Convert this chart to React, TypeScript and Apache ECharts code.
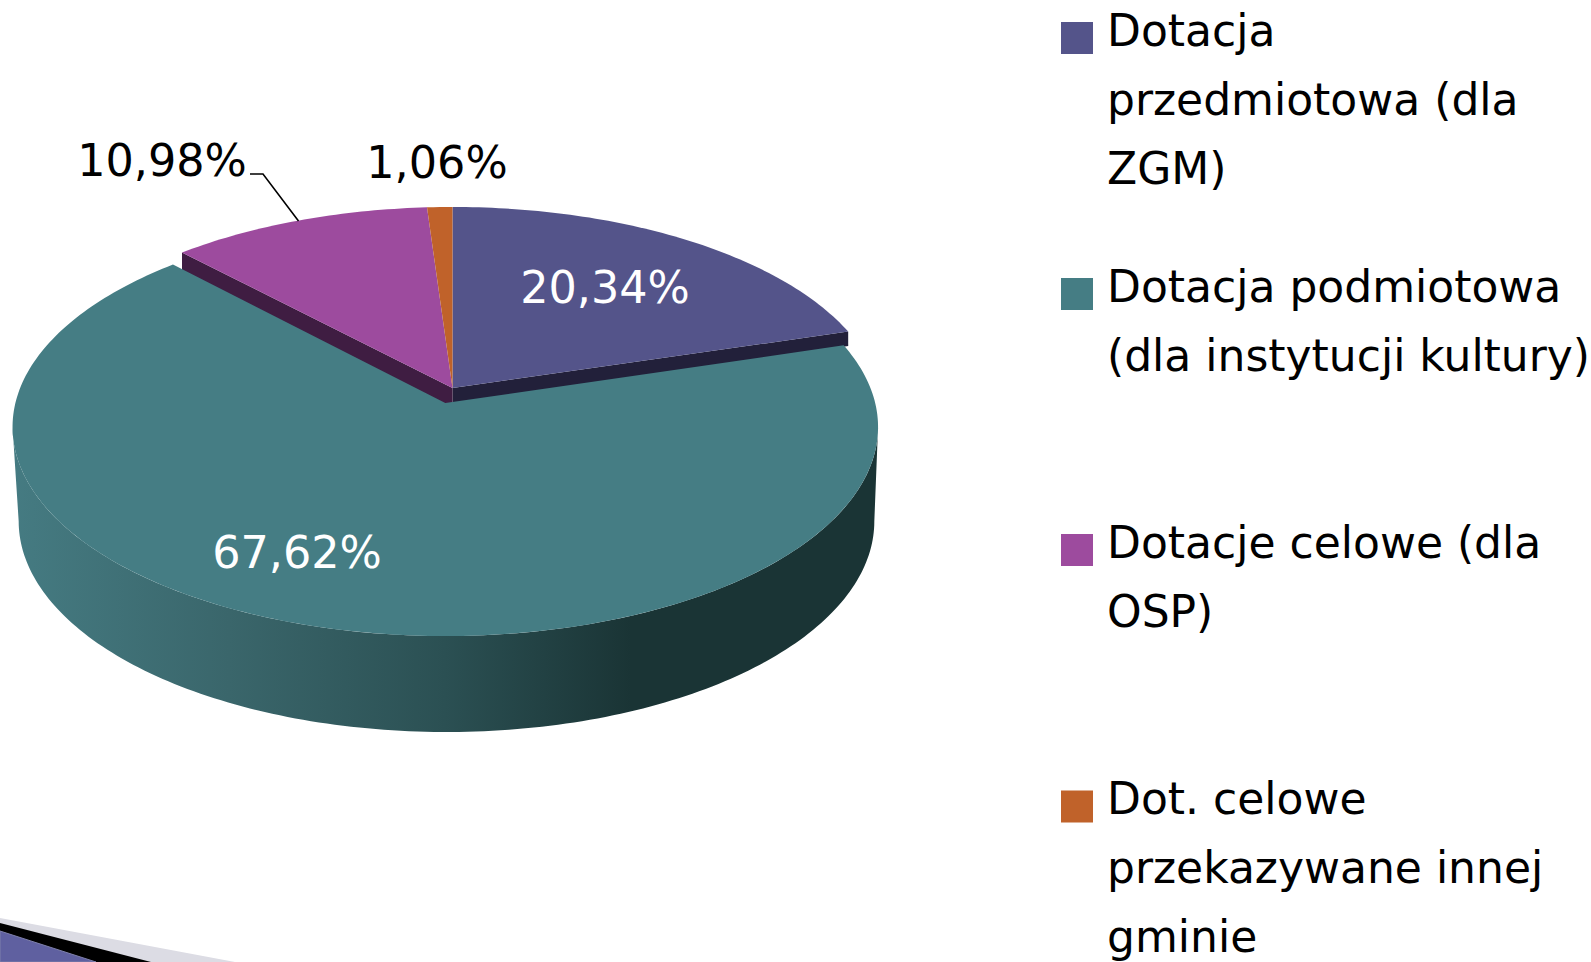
import React, { useEffect, useRef } from "react";
import * as echarts from "echarts";

const categories = [
  "Dotacja przedmiotowa (dla ZGM)",
  "Dotacja podmiotowa (dla instytucji kultury)",
  "Dotacje celowe (dla OSP)",
  "Dot. celowe przekazywane innej gminie",
];
const legendLines = [
  ["Dotacja", "przedmiotowa (dla", "ZGM)"],
  ["Dotacja podmiotowa", "(dla instytucji kultury)"],
  ["Dotacje celowe (dla", "OSP)"],
  ["Dot. celowe", "przekazywane innej", "gminie"],
];
const values = [20.34, 67.62, 10.98, 1.06];
const colors = ["#54548a", "#457d84", "#9d4b9e", "#c0622a"];
const sideColors = ["#22203a", "#457d84", "#3f1d42", "#5f3015"];
const labelColors = ["#ffffff", "#ffffff", "#000000", "#000000"];
const labelAnchors: [number, number][] = [
  [605, 287],
  [297, 552],
  [162, 160],
  [437, 162],
];
const legendCenters = [50.5, 306.5, 562.5, 819];

const FONT = '44.5px "DejaVu Sans"';
const total = values.reduce((a, b) => a + b, 0);
const starts: number[] = [];
values.reduce((acc, v, i) => {
  starts[i] = acc;
  return acc + v;
}, 0);
const angleOf = (pct: number) => (pct / total) * Math.PI * 2;

const C = 0.1148;
const WIDEST = Math.acos(-C);
type Proj = { x: number; y: number; r: number; k: number };
const TEAL_TOP: Proj = { x: 445.3, y: 403, r: 429.9, k: 206.3 };
const TEAL_BOTTOM: Proj = { x: 446.5, y: 497, r: 425, k: 208 };
const GROUP_TOP: Proj = { x: 452.5, y: 388, r: 427, k: 201.8 };
const SIDE_DROP_EDGE = [14.5, 0, 22];
const SIDE_DROP_APEX = 22;

const pt = (p: Proj, a: number) => {
  const u = Math.sin(a);
  const v = Math.cos(a);
  const d = 1 + C * v;
  return [p.x + (p.r * u) / d, p.y - (p.k * v) / d];
};
const rim = (p: Proj, a0: number, a1: number) => {
  const n = Math.max(2, Math.ceil(((a1 - a0) * 180) / Math.PI));
  const out: number[][] = [];
  for (let i = 0; i <= n; i++) out.push(pt(p, a0 + ((a1 - a0) * i) / n));
  return out;
};
const range = (i: number) => [angleOf(starts[i]), angleOf(starts[i] + values[i])];
const fmt = (v: number) => v.toFixed(2).replace(".", ",") + "%";

const label = (i: number) => ({
  type: "text",
  style: {
    text: fmt(values[i]),
    x: labelAnchors[i][0],
    y: labelAnchors[i][1],
    fill: labelColors[i],
    font: FONT,
    align: "center",
    verticalAlign: "middle",
  },
});
const poly = (points: number[][], fill: any) => ({
  type: "polygon",
  shape: { points },
  style: { fill, stroke: null },
});

const sideOf = (i: number) => () => {
  const [a0, a1] = range(i);
  const c = [GROUP_TOP.x, GROUP_TOP.y];
  const edge = pt(GROUP_TOP, i === 0 ? a1 : a0);
  return {
    type: "group",
    children: [
      poly(
        [c, edge, [edge[0], edge[1] + SIDE_DROP_EDGE[i]], [c[0], c[1] + SIDE_DROP_APEX]],
        sideColors[i]
      ),
    ],
  };
};
const topOf = (i: number) => () => {
  const [a0, a1] = range(i);
  const children: any[] = [
    poly([[GROUP_TOP.x, GROUP_TOP.y], ...rim(GROUP_TOP, a0, a1)], colors[i]),
    label(i),
  ];
  if (i === 2) {
    children.push({
      type: "polyline",
      shape: {
        points: [
          [250, 174],
          [263, 174],
          [298.5, 221],
        ],
      },
      style: { stroke: "#000000", lineWidth: 1.6, fill: null },
    });
  }
  return { type: "group", children };
};
const tealBody = () => {
  const i = 1;
  const [a0, a1] = range(i);
  const front0 = Math.max(a0, WIDEST);
  const front1 = Math.min(a1, Math.PI * 2 - WIDEST);
  const wall = [...rim(TEAL_TOP, front0, front1), ...rim(TEAL_BOTTOM, front0, front1).reverse()];
  const grad = new echarts.graphic.LinearGradient(
    0,
    0,
    1,
    0,
    [
      { offset: 0, color: "#457b82" },
      { offset: 0.25, color: "#3a666b" },
      { offset: 0.5, color: "#2b5053" },
      { offset: 0.715, color: "#1a3435" },
      { offset: 1, color: "#1a3435" },
    ],
    false
  );
  return {
    type: "group",
    children: [
      poly(wall, grad),
      poly([[TEAL_TOP.x, TEAL_TOP.y], ...rim(TEAL_TOP, a0, a1)], colors[i]),
      label(i),
    ],
  };
};

const custom = (i: number, renderItem: any) => ({
  type: "custom",
  name: categories[i],
  coordinateSystem: "none",
  silent: true,
  itemStyle: { color: colors[i] },
  data: [values[i]],
  renderItem,
});

const LH = 69;
const SHIFT_LINE = 16;
const legends = categories.map((name, i) => {
  const lines = legendLines[i];
  const n = lines.length;
  const blanks = Array.from({ length: n - 1 }, () => "{l| }");
  const text = [...blanks, ...lines.map((s) => `{l|${s}}`), "{p| }"].join("\n");
  const blockHeight = (2 * n - 1) * LH + SHIFT_LINE;
  return {
    show: true,
    data: [name],
    left: 1061,
    top: legendCenters[i] - blockHeight / 2,
    padding: 0,
    orient: "vertical",
    icon: "rect",
    itemWidth: 32,
    itemHeight: 32,
    selectedMode: false,
    formatter: () => text,
    textStyle: {
      color: "#000000",
      padding: [0, 0, 0, 9],
      rich: {
        l: { color: "#000000", fontFamily: "DejaVu Sans", fontSize: 44, lineHeight: LH },
        p: { fontSize: 1, lineHeight: SHIFT_LINE },
      },
    },
  };
});

export default function App() {
  const ref = useRef<HTMLDivElement>(null);
  useEffect(() => {
    const chart = echarts.init(ref.current!, undefined, { renderer: "svg" });
    chart.setOption({
      animation: false,
      backgroundColor: "#ffffff",
      legend: legends,
      graphic: [
        {
          type: "polygon",
          shape: { points: [[0, 918], [235, 962], [0, 962]] },
          style: { fill: "#dcdce4" },
        },
        {
          type: "polygon",
          shape: { points: [[0, 923], [151, 962], [0, 962]] },
          style: { fill: "#000000" },
        },
        {
          type: "polygon",
          shape: { points: [[0, 931], [96, 962], [0, 962]] },
          style: { fill: "#5f60a0", stroke: "#7f80ab", lineWidth: 1 },
        },
      ],
      series: [
        custom(0, sideOf(0)),
        custom(2, sideOf(2)),
        custom(1, tealBody),
        custom(0, topOf(0)),
        custom(2, topOf(2)),
        custom(3, topOf(3)),
      ],
    });
    return () => chart.dispose();
  }, []);
  return (
    <div style={{ position: "fixed", left: 0, top: 0, width: 1591, height: 962, overflow: "hidden", background: "#fff" }}>
      <div ref={ref} style={{ width: 1591, height: 1100 }} />
    </div>
  );
}
